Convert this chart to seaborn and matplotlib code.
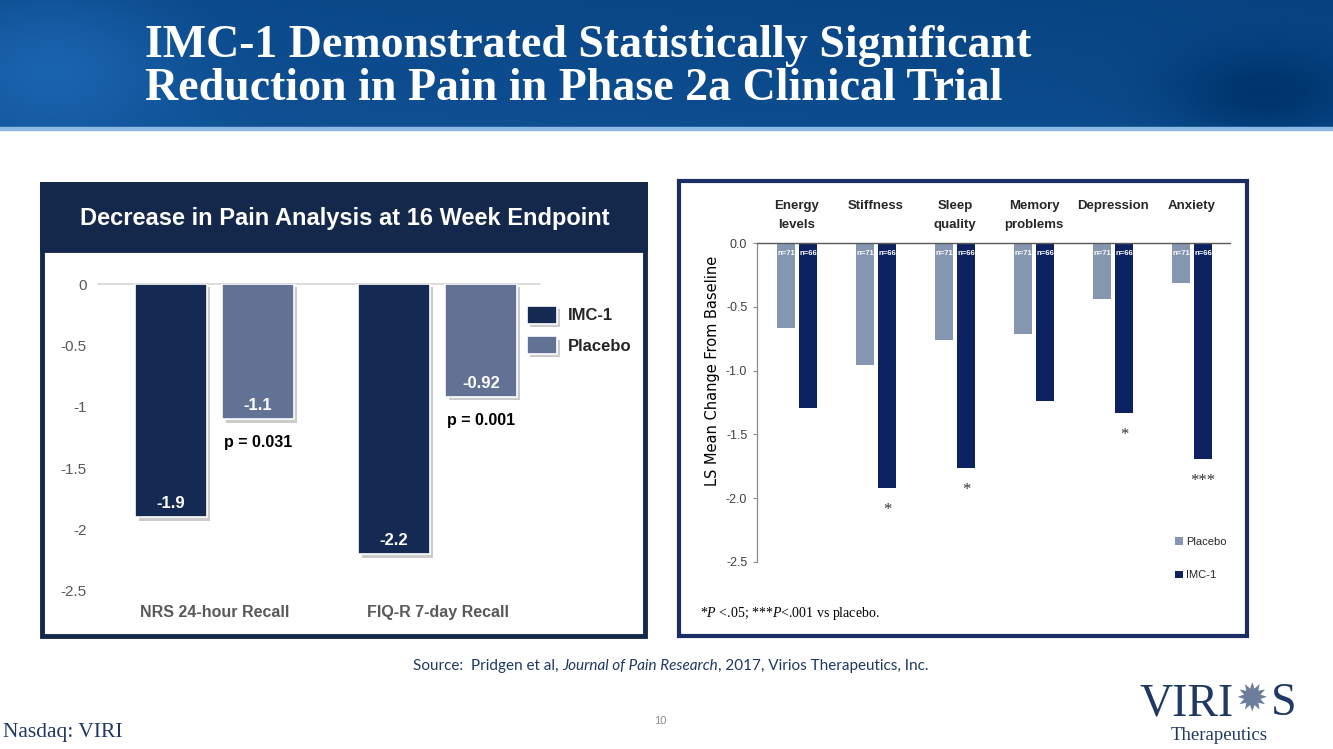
import numpy as np
import pandas as pd
import matplotlib
matplotlib.use("Agg")
import matplotlib.pyplot as plt
import seaborn as sns
from matplotlib.patches import Rectangle
import matplotlib.patheffects as pe
from matplotlib.transforms import blended_transform_factory

# ---------------- data ----------------
left_categories = ["NRS 24-hour Recall", "FIQ-R 7-day Recall"]
left_imc1 = [-1.9, -2.2]
left_placebo = [-1.1, -0.92]
left_imc1_labels = ["-1.9", "-2.2"]
left_placebo_labels = ["-1.1", "-0.92"]
left_pvalues = ["p = 0.031", "p = 0.001"]
left_yticks = [0, -0.5, -1, -1.5, -2, -2.5]
left_yticklabels = ["0", "-0.5", "-1", "-1.5", "-2", "-2.5"]

right_categories = ["Energy\nlevels", "Stiffness", "Sleep\nquality",
                    "Memory\nproblems", "Depression", "Anxiety"]
right_placebo = [-0.67, -0.96, -0.76, -0.71, -0.44, -0.31]
right_imc1 = [-1.29, -1.92, -1.76, -1.24, -1.33, -1.69]
right_n_placebo = "n=71"
right_n_imc1 = "n=66"
right_stars = ["", "*", "*", "", "*", "***"]
right_yticks = [0.0, -0.5, -1.0, -1.5, -2.0, -2.5]
right_yticklabels = ["0.0", "-0.5", "-1.0", "-1.5", "-2.0", "-2.5"]

# ---------------- setup ----------------
sns.set_theme(style="white")
plt.rcParams["font.family"] = ["Liberation Sans", "DejaVu Sans"]
plt.rcParams["mathtext.fontset"] = "custom"
plt.rcParams["mathtext.rm"] = "Liberation Serif"
plt.rcParams["mathtext.it"] = "Liberation Serif:italic"

W, H = 1333, 749
fig = plt.figure(figsize=(W / 100, H / 100), dpi=100)
fig.patch.set_facecolor("white")


def fx(x):
    return x / W


def fy(y):
    return 1 - y / H


NARROW = ["Liberation Sans Narrow", "DejaVu Sans Condensed", "Liberation Sans"]
NAVY_TXT = "#1f3864"

# ---------------- banner ----------------
bax = fig.add_axes([0, fy(127), 1, 127 / H])
hh, ww = 80, 500
xx = np.linspace(0, 1, ww)[None, :]
yy = np.linspace(0, 1, hh)[:, None]
base = np.array([16, 82, 150]) / 255.0
img = np.ones((hh, ww, 3)) * base
bright = 0.08 * np.exp(-(((xx - 0.04) / 0.09) ** 2 + ((yy - 0.5) / 0.6) ** 2))
dark = -0.08 * np.exp(-(((xx - 0.95) / 0.07) ** 2 + ((yy - 0.75) / 0.35) ** 2))
vert = -0.03 * (1 - yy)
mod = bright + dark + vert - 0.03 * xx
for c in range(3):
    img[:, :, c] = np.clip(img[:, :, c] + mod * (0.6 + 0.4 * c), 0, 1)
bax.imshow(img, aspect="auto", extent=[0, 1, 0, 1])
bax.axis("off")
fig.add_artist(Rectangle((0, fy(130)), 1, 3 / H, color="#8dbbe6",
                         transform=fig.transFigure, zorder=3))
fig.text(fx(145), fy(57), "IMC-1 Demonstrated Statistically Significant",
         color="white", fontsize=33, fontweight="bold",
         family="Liberation Serif", va="baseline", ha="left")
fig.text(fx(145), fy(100), "Reduction in Pain in Phase 2a Clinical Trial",
         color="white", fontsize=33, fontweight="bold",
         family="Liberation Serif", va="baseline", ha="left")

# ---------------- left panel ----------------
LNAVY = "#14284b"
fig.add_artist(Rectangle((fx(42), fy(636)), (645 - 42) / W, (636 - 184) / H,
                         facecolor="white", edgecolor=LNAVY, lw=3.5,
                         transform=fig.transFigure, zorder=0))
fig.add_artist(Rectangle((fx(42), fy(250)), (645 - 42) / W, (250 - 184) / H,
                         facecolor=LNAVY, edgecolor=LNAVY, lw=3.5,
                         transform=fig.transFigure, zorder=0))
fig.text(fx(345), fy(219), "Decrease in Pain Analysis at 16 Week Endpoint",
         color="white", fontsize=17, fontweight="bold", ha="center", va="center")

df_left = pd.DataFrame({
    "category": left_categories * 2,
    "group": ["IMC-1"] * len(left_categories) + ["Placebo"] * len(left_categories),
    "value": left_imc1 + left_placebo,
})
axL = fig.add_axes([fx(98), fy(591), fx(540) - fx(98), (591 - 284) / H])
axL.patch.set_alpha(0)
sns.barplot(data=df_left, x="category", y="value", hue="group",
            hue_order=["IMC-1", "Placebo"],
            palette={"IMC-1": "#152a52", "Placebo": "#627294"},
            width=0.78, gap=0.18, saturation=1, errorbar=None,
            edgecolor="white", linewidth=1.2, ax=axL, zorder=3)
axL.set_xlim(-0.523, 1.459)
axL.set_ylim(-2.5, 0)
axL.axhline(0, color="#d9d9d9", lw=1.3, zorder=1, clip_on=False)
for s in axL.spines.values():
    s.set_visible(False)
axL.set_yticks(left_yticks)
axL.set_yticklabels(left_yticklabels)
axL.tick_params(axis="y", length=0, pad=8, labelsize=11, labelcolor="#595959")
axL.tick_params(axis="x", length=0, pad=10, labelsize=11.5, labelcolor="#595959")
for lab in axL.get_xticklabels():
    lab.set_fontweight("bold")
axL.set_xlabel("")
axL.set_ylabel("")
for p in axL.patches:
    p.set_path_effects([pe.SimplePatchShadow(offset=(2.5, -2.5), shadow_rgbFace="#8c8c8c", alpha=0.45),
                        pe.Normal()])
imc_c, pla_c = axL.containers[0], axL.containers[1]
for bar, lab in zip(imc_c, left_imc1_labels):
    axL.annotate(lab, (bar.get_x() + bar.get_width() / 2, bar.get_y() + bar.get_height()),
                 xytext=(0, 10), textcoords="offset points", ha="center", va="center",
                 color="white", fontsize=12, fontweight="bold", zorder=5)
for bar, lab, pv in zip(pla_c, left_placebo_labels, left_pvalues):
    cx = bar.get_x() + bar.get_width() / 2
    cy = bar.get_y() + bar.get_height()
    axL.annotate(lab, (cx, cy), xytext=(0, 10), textcoords="offset points",
                 ha="center", va="center", color="white", fontsize=12,
                 fontweight="bold", zorder=5)
    axL.annotate(pv, (cx, cy), xytext=(0, -17), textcoords="offset points",
                 ha="center", va="center", color="black", fontsize=11.5,
                 fontweight="bold", zorder=5)
hL, lL = axL.get_legend_handles_labels()
axL.legend(hL, lL, loc="upper left", bbox_to_anchor=(fx(527), fy(306)),
           bbox_transform=fig.transFigure, frameon=False,
           prop={"weight": "bold", "size": 12}, handlelength=1.8,
           handleheight=1.25, labelspacing=0.75, handletextpad=0.65,
           borderpad=0, borderaxespad=0)

# ---------------- right panel ----------------
RNAVY = "#1b2d64"
fig.add_artist(Rectangle((fx(679), fy(636)), (1247 - 679) / W, (636 - 181) / H,
                         facecolor="white", edgecolor=RNAVY, lw=3,
                         transform=fig.transFigure, zorder=0))

df_right = pd.DataFrame({
    "category": right_categories * 2,
    "group": ["Placebo"] * len(right_categories) + ["IMC-1"] * len(right_categories),
    "value": right_placebo + right_imc1,
})
axR = fig.add_axes([fx(757), fy(562), fx(1230) - fx(757), (562 - 243) / H])
axR.patch.set_alpha(0)
sns.barplot(data=df_right, x="category", y="value", hue="group",
            hue_order=["Placebo", "IMC-1"],
            palette={"Placebo": "#8596b0", "IMC-1": "#0d2260"},
            width=0.56, gap=0.18, saturation=1, errorbar=None,
            linewidth=0, ax=axR, zorder=3)
axR.set_xlim(-0.506, 5.48)
axR.set_ylim(-2.5, 0)
axR.axhline(0, color="#595959", lw=1.0, zorder=4, clip_on=False)
for k in ["top", "right", "bottom"]:
    axR.spines[k].set_visible(False)
axR.spines["left"].set_color("#8c8c8c")
axR.spines["left"].set_linewidth(0.9)
axR.set_xticks([])
axR.set_xlabel("")
axR.set_ylabel("")
axR.set_yticks(right_yticks)
axR.set_yticklabels(right_yticklabels)
axR.tick_params(axis="y", left=True, direction="out", length=3, width=0.8,
                color="#8c8c8c", pad=4, labelsize=9, labelcolor="#404040")
for lab in axR.get_yticklabels():
    lab.set_family(NARROW)

trR = blended_transform_factory(axR.transData, fig.transFigure)
for i, cat in enumerate(right_categories):
    axR.text(i, fy(200), cat, transform=trR, ha="center", va="top",
             fontsize=9.5, fontweight="bold", family=NARROW, linespacing=1.75)

pla_r, imc_r = axR.containers[0], axR.containers[1]
for cont, nlab in [(pla_r, right_n_placebo), (imc_r, right_n_imc1)]:
    for bar in cont:
        axR.text(bar.get_x() + bar.get_width() / 2, -0.085, nlab, ha="center",
                 va="center", color="white", fontsize=5.5, fontweight="bold",
                 family=NARROW, zorder=6)
for bar, st in zip(imc_r, right_stars):
    if st:
        axR.annotate(st, (bar.get_x() + bar.get_width() / 2, bar.get_y() + bar.get_height()),
                     xytext=(0, -19), textcoords="offset points", ha="center",
                     va="baseline", fontsize=12, color="#333333",
                     family="Liberation Serif", annotation_clip=False, zorder=6)
hR, lR = axR.get_legend_handles_labels()
axR.legend(hR, lR, loc="upper left", bbox_to_anchor=(fx(1175), fy(537)),
           bbox_transform=fig.transFigure, frameon=False,
           prop={"family": NARROW, "size": 8}, handlelength=0.7,
           handleheight=0.7, labelspacing=2.1, handletextpad=0.3,
           borderpad=0, borderaxespad=0)

fig.text(fx(713), fy(371), "LS Mean Change From Baseline", rotation=90,
         ha="center", va="center", fontsize=10.5, family="DejaVu Sans", color="black")
fig.text(fx(700), fy(614), r"*$P$ <.05; ***$P$<.001 vs placebo.",
         ha="left", va="center", fontsize=10, family="Liberation Serif",
         color="black")

# ---------------- footer ----------------
fig.canvas.draw()
rend = fig.canvas.get_renderer()
runs = [("Source:  Pridgen et al, ", "normal"), ("Journal of Pain Research", "italic"),
        (", 2017, Virios Therapeutics, Inc.", "normal")]
src_kw = dict(fontsize=11, family=["Lato", "DejaVu Sans"], color=NAVY_TXT,
              va="center", ha="left")
widths = []
for s, sty in runs:
    t = fig.text(0, 0, s, style=sty, **src_kw)
    widths.append(t.get_window_extent(renderer=rend).width)
    t.remove()
cur = 671 - sum(widths) / 2
for (s, sty), wdt in zip(runs, widths):
    fig.text(fx(cur), fy(666), s, style=sty, **src_kw)
    cur += wdt

fig.text(fx(3), fy(733), "Nasdaq: VIRI", fontsize=15.5, family="Liberation Serif",
         color=NAVY_TXT, ha="left", va="center")
fig.text(fx(660), fy(721), "10", fontsize=8, color="#8c8c8c", ha="center", va="center")
fig.text(fx(1140), fy(715), "VIRI", fontsize=33, family="Liberation Serif",
         color=NAVY_TXT, ha="left", va="baseline")
fig.text(fx(1252), fy(700), "\u2739", fontsize=28, family="DejaVu Sans",
         color="#6d7e9c", ha="center", va="center")
fig.text(fx(1296), fy(715), "S", fontsize=33, family="Liberation Serif",
         color=NAVY_TXT, ha="right", va="baseline")
fig.text(fx(1219), fy(736), "Therapeutics", fontsize=13.5, family="Liberation Serif",
         color=NAVY_TXT, ha="center", va="center")

fig.savefig("out.png", dpi=100, facecolor="white")
